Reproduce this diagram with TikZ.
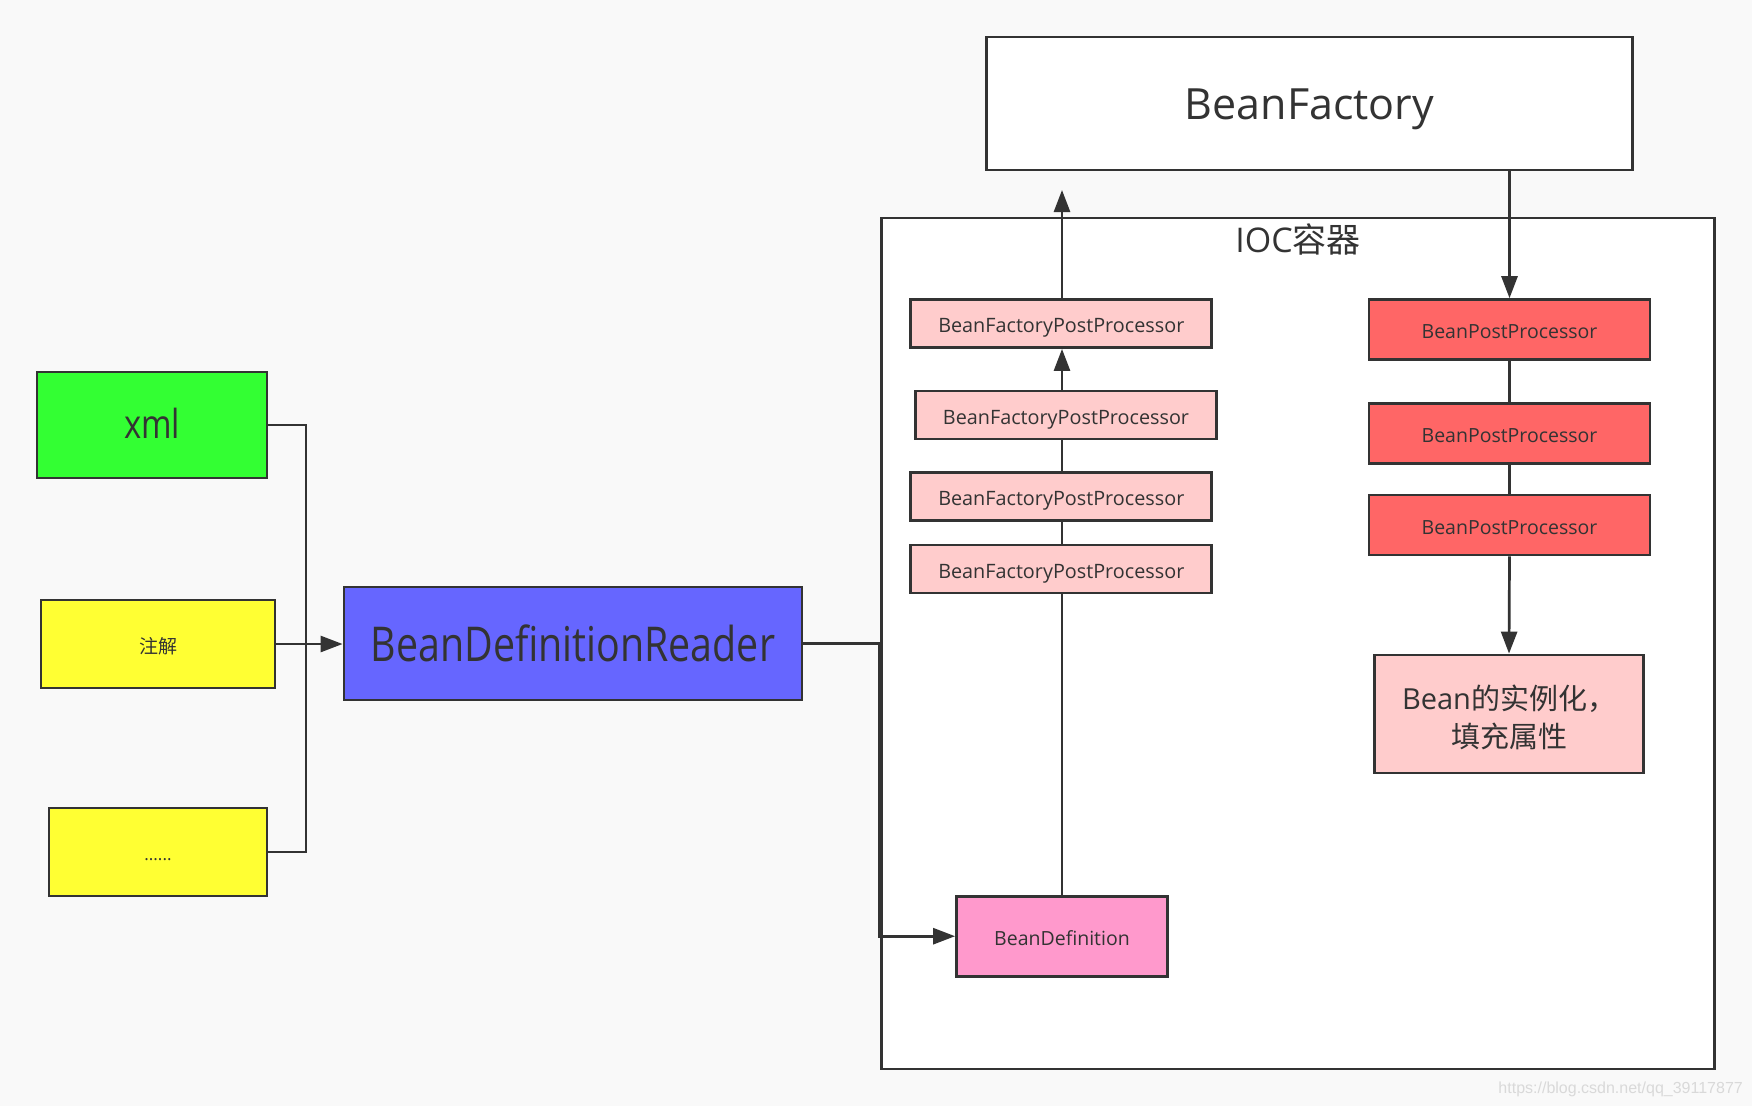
\documentclass[tikz,border=0pt]{standalone}
\usepackage{fontspec}
\setmainfont{Open Sans}
\newfontfamily\cjk{Noto Sans CJK SC}
\newfontfamily\wmfont{Liberation Sans}
\usetikzlibrary{arrows.meta}
\definecolor{bg}{HTML}{F9F9F9}
\definecolor{ln}{HTML}{333333}
\definecolor{cgreen}{HTML}{33FF33}
\definecolor{cyellow}{HTML}{FFFF33}
\definecolor{cblue}{HTML}{6666FF}
\definecolor{cpink}{HTML}{FFCCCC}
\definecolor{cred}{HTML}{FF6666}
\definecolor{cmag}{HTML}{FF99CC}
\definecolor{wm}{HTML}{D9D9D9}
\newcommand{\dn}[2]{\raisebox{-#1}[\height][\depth]{#2}}
\begin{document}
\begin{tikzpicture}[x=1pt,y=-1pt,
  box/.style={draw=ln, line width=2.8pt, inner sep=0pt, text=ln},
  conn/.style={draw=ln, line width=2.7pt},
  arr/.style={conn, -{Triangle[length=22pt,width=16pt]}},
  fpp/.style={box, fill=cpink, minimum width=301pt, minimum height=48pt, font=\fontsize{19.8}{22}\selectfont},
  bpp/.style={box, fill=cred, minimum width=281pt, minimum height=60pt, font=\fontsize{19.5}{22}\selectfont},
]
\fill[bg] (0,0) rectangle (1752,1106);
\useasboundingbox (0,0) rectangle (1752,1106);

% containers
\node[box, fill=white, minimum width=646pt, minimum height=133pt, font=\fontsize{43}{50}\selectfont] (bf) at (1309.5,103.4) {\dn{5.5pt}{BeanFactory}};
\node[box, fill=white, minimum width=833pt, minimum height=851pt] (ioc) at (1298.3,643.5) {};
\node[text=ln, inner sep=0pt, font=\fontsize{34}{40}\selectfont] (ioclabel) at (1298,239) {IOC{\cjk 容器}};

% left side
\node[box, fill=cgreen, minimum width=230pt, minimum height=106pt, font=\fontsize{40}{46}\selectfont] (xml) at (152,425) {\dn{-2pt}{\scalebox{0.82}[1]{xml}}};
\node[box, fill=cyellow, minimum width=234pt, minimum height=88pt, font=\cjk\fontsize{19}{22}\selectfont] (anno) at (158,644) {\dn{2pt}{注解}};
\node[box, fill=cyellow, minimum width=218pt, minimum height=88pt, font=\fontsize{17}{20}\selectfont] (dots) at (158,852) {\dn{8pt}{......}};
\node[box, fill=cblue, minimum width=458pt, minimum height=113pt, font=\fontsize{48}{54}\selectfont] (bdr) at (573,643.5) {\scalebox{0.82}[1]{BeanDefinitionReader}};

% BeanFactoryPostProcessors
\node[fpp] (fpp1) at (1061.3,323.5) {\dn{4.5pt}{BeanFactoryPostProcessor}};
\node[fpp] (fpp2) at (1066,415) {\dn{4.5pt}{BeanFactoryPostProcessor}};
\node[fpp] (fpp3) at (1061.3,496.7) {\dn{4.5pt}{BeanFactoryPostProcessor}};
\node[fpp] (fpp4) at (1061.3,569) {\dn{4.5pt}{BeanFactoryPostProcessor}};
\node[box, fill=cmag, minimum width=211pt, minimum height=80pt, font=\fontsize{19.5}{22}\selectfont] (bd) at (1062,936.2) {\dn{2.2pt}{BeanDefinition}};

% BeanPostProcessors
\node[bpp] (bpp1) at (1509.5,329.6) {\dn{2.2pt}{BeanPostProcessor}};
\node[bpp] (bpp2) at (1509.5,433.5) {\dn{2.2pt}{BeanPostProcessor}};
\node[bpp] (bpp3) at (1509.5,525) {\dn{2.2pt}{BeanPostProcessor}};
\node[box, fill=cpink, minimum width=269pt, minimum height=118pt, font=\fontsize{29}{38}\selectfont] (bean) at (1509,714) {\dn{7pt}{\begin{tabular}{@{}c@{}}Bean{\cjk 的实例化，}\\{\cjk 填充属性}\end{tabular}}};

% watermark
\node[text=wm, inner sep=0pt, anchor=east, font=\wmfont\fontsize{16}{19}\selectfont] (wmark) at (1743,1089) {https://blog.csdn.net/qq\_39117877};

% connectors left
\coordinate (j) at (306,644);
\draw[conn] (xml.east) -| (j);
\draw[conn] (dots.east) -| (j);
\draw[arr] (anno.east) -- (anno.east -| bdr.west);
\coordinate (k) at (879,643.5);
\draw[arr] (bdr.east) -- (k) |- (bd.west);

% BFPP chain
\coordinate (fpTop) at (1062,190);
\draw[conn] (bd.north) -- (bd.north |- fpp4.south);
\draw[conn] (bd.north |- fpp4.north) -- (bd.north |- fpp3.south);
\draw[conn] (bd.north |- fpp3.north) -- (bd.north |- fpp2.south);
\draw[arr] (bd.north |- fpp2.north) -- (bd.north |- fpp1.south);
\draw[arr] (bd.north |- fpp1.north) -- (fpTop);

% BPP chain
\draw[arr] (bpp1.north |- bf.south) -- (bpp1.north);
\draw[conn] (bpp1.south) -- (bpp2.north);
\draw[conn] (bpp2.south) -- (bpp3.north);
\draw[arr] (bpp3.south) -- (bean.north);
\end{tikzpicture}
\end{document}
